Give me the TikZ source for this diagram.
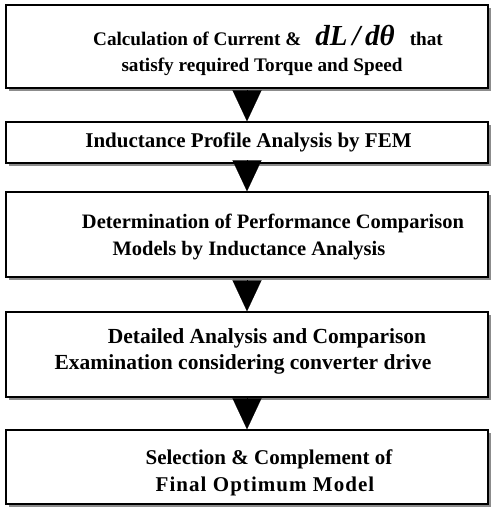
\documentclass[tikz,border=0pt]{standalone}
\usepackage{fontspec}
\setmainfont{Liberation Serif}
\usetikzlibrary{positioning, shadows, arrows.meta}
\tikzset{
	stepbox/.style={
			draw=black,
			line width=1.4pt,
			fill=white,
			minimum width=482pt,
			inner sep=0pt,
			drop shadow={shadow xshift=3pt, shadow yshift=-3pt, fill=black!45, opacity=1}
		},
	steptext/.style={
			align=center,
			inner sep=0pt,
			font=\fontsize{21}{27}\selectfont\bfseries
		},
	flowarrow/.style={
			-{Triangle[width=29pt,length=31pt]},
			line width=0.1pt,
			shorten <=3pt
		}
}

\begin{document}
\begin{tikzpicture}[x=1pt, y=-1pt]
\useasboundingbox (0,0) rectangle (491,511);

% boxes
\node[stepbox, minimum height=83pt] (calc) at (247,46.5) {};
\node[stepbox, minimum height=41pt] (fem) at (247,142.5) {};
\node[stepbox, minimum height=85pt] (models) at (247,234.5) {};
\node[stepbox, minimum height=85pt] (detail) at (247,354.5) {};
\node[stepbox, minimum height=74pt] (final) at (247,467) {};

% texts, placed as they sit in the original
\node[steptext, font=\fontsize{19.2}{26}\selectfont\bfseries] (calctext) at ([xshift=18pt, yshift=-4pt]calc.center)
	{\hspace*{6pt}Calculation of Current \&\hspace{14pt}{\fontsize{29}{26}\selectfont\itshape dL\,/\,dθ}\hspace{15pt}that\\
	satisfy required Torque and Speed\hspace*{6pt}};
\node[steptext] (femtext) at ([xshift=1.5pt]fem.center)
	{Inductance Profile Analysis by FEM};
\node[steptext, font=\fontsize{20.5}{27}\selectfont\bfseries] (modelstext) at ([xshift=14pt, yshift=-2pt]models.center)
	{\hspace*{24pt}Determination of Performance Comparison\\
	Models by Inductance Analysis\hspace*{24pt}};
\node[steptext, font=\fontsize{21.5}{26}\selectfont\bfseries] (detailtext) at ([xshift=8pt, yshift=3pt]detail.center)
	{\hspace*{24pt}Detailed Analysis and Comparison\\
	Examination considering converter drive\hspace*{24pt}};
\node[steptext] (finaltext) at ([xshift=20pt, yshift=-6pt]final.center)
	{\hspace*{4pt}Selection \& Complement of\\
	{\addfontfeature{LetterSpace=5}Final Optimum Model}\hspace*{4pt}};

\draw[flowarrow] (calc) -- (fem);
\draw[flowarrow] (fem) -- (models);
\draw[flowarrow] (models) -- (detail);
\draw[flowarrow] (detail) -- (final);
\end{tikzpicture}
\end{document}
